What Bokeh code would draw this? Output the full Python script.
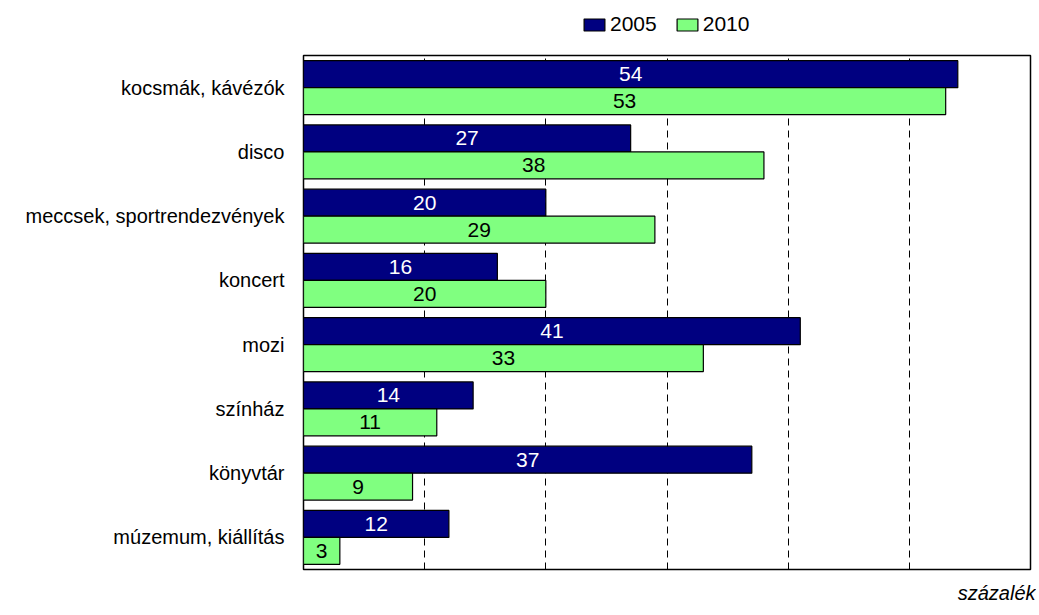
from bokeh.plotting import figure
from bokeh.models import (FactorRange, Range1d, FixedTicker, Legend, LegendItem,
                          ColumnDataSource, Title)
from bokeh.layouts import column
from bokeh.transform import dodge
from bokeh.core.properties import value
from bokeh.embed import file_html
from bokeh.resources import INLINE

categories = ["kocsmák, kávézók", "disco", "meccsek, sportrendezvények", "koncert",
              "mozi", "színház", "könyvtár", "múzemum, kiállítás"]
values_2005 = [54, 27, 20, 16, 41, 14, 37, 12]
values_2010 = [53, 38, 29, 20, 33, 11, 9, 3]
series_names = ["2005", "2010"]
grid_ticks = [10, 20, 30, 40, 50]

FONT = "Liberation Sans"
FS = "20px"
NAVY = "#000080"
GREEN = "#80ff80"

src = ColumnDataSource(dict(
    cat=categories,
    v05=values_2005,
    v10=values_2010,
    h05=[v / 2 for v in values_2005],
    h10=[v / 2 for v in values_2010],
    t05=[str(v) for v in values_2005],
    t10=[str(v) for v in values_2010],
))

# ---- legend strip (top) ----
top = figure(width=1036, height=49, output_backend="svg", toolbar_location=None,
             x_range=Range1d(0, 1), y_range=Range1d(0, 1),
             min_border=0, outline_line_color=None)
top.axis.visible = False
top.grid.visible = False
# legend swatches only: the bars sit outside the visible range
l05 = top.hbar(y=[-5], right=[1], left=0, height=0.5, fill_color=NAVY, line_color="black", line_width=1.2)
l10 = top.hbar(y=[-5], right=[1], left=0, height=0.5, fill_color=GREEN, line_color="black", line_width=1.2)
legend = Legend(items=[LegendItem(label=series_names[0], renderers=[l05]),
                       LegendItem(label=series_names[1], renderers=[l10])],
                orientation="horizontal", location=(278, 13),
                glyph_width=26, glyph_height=15, label_standoff=3, spacing=17,
                padding=0, margin=0, border_line_color=None, background_fill_alpha=0,
                label_text_font=FONT, label_text_font_size="21px", label_height=20,
                label_text_color="black")
top.add_layout(legend, "center")

# ---- main chart ----
p = figure(width=1036, height=565, output_backend="svg", toolbar_location=None,
           y_range=FactorRange(factors=list(reversed(categories))),
           x_range=Range1d(0, 60),
           min_border_left=303, min_border_right=6, min_border_top=6, min_border_bottom=40)

p.outline_line_color = "black"
p.outline_line_width = 1.5

p.hbar(y=dodge("cat", 0.21, range=p.y_range), right="v05", left=0, height=0.42,
       source=src, fill_color=NAVY, line_color="black", line_width=1.2)
p.hbar(y=dodge("cat", -0.21, range=p.y_range), right="v10", left=0, height=0.42,
       source=src, fill_color=GREEN, line_color="black", line_width=1.2)

p.text(x="h05", y=dodge("cat", 0.21, range=p.y_range), text="t05", source=src,
       text_align="center", text_baseline="middle", text_color="white",
       text_font=value(FONT), text_font_size="21px")
p.text(x="h10", y=dodge("cat", -0.21, range=p.y_range), text="t10", source=src,
       text_align="center", text_baseline="middle", text_color="black",
       text_font=value(FONT), text_font_size="21px")

p.xaxis.visible = False
p.xgrid.ticker = FixedTicker(ticks=grid_ticks)
p.xgrid.grid_line_color = "black"
p.xgrid.grid_line_dash = "7 5"
p.xgrid.grid_line_width = 1
p.ygrid.grid_line_color = None

ya = p.yaxis[0]
ya.axis_line_color = None
ya.major_tick_line_color = None
ya.minor_tick_line_color = None
ya.major_tick_out = 0
ya.major_tick_in = 0
ya.major_label_standoff = 19
ya.major_label_text_font = FONT
ya.major_label_text_font_size = FS
ya.major_label_text_color = "black"

unit = Title(text="százalék", align="right", text_font=FONT, text_font_size=FS,
             text_font_style="italic", text_color="black", standoff=21, offset=-5)
p.add_layout(unit, "below")

layout = column(top, p, spacing=0)
open("out.html", "w").write(file_html(layout, INLINE))
